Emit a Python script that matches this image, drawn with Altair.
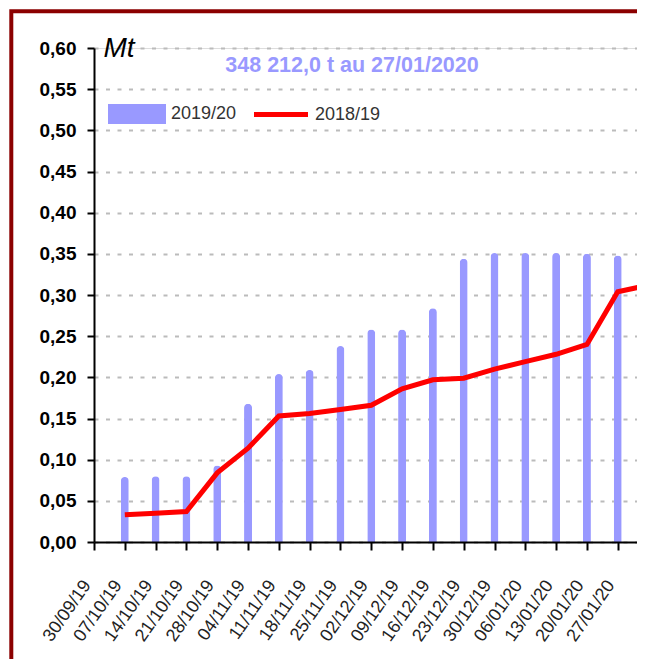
import altair as alt
import pandas as pd

# ---- data ----
week_labels = ["30/09/19", "07/10/19", "14/10/19", "21/10/19", "28/10/19", "04/11/19",
               "11/11/19", "18/11/19", "25/11/19", "02/12/19", "09/12/19", "16/12/19",
               "23/12/19", "30/12/19", "06/01/20", "13/01/20", "20/01/20", "27/01/20"]

bar_dates = week_labels[1:]
bar_values = [0.079, 0.080, 0.080, 0.093, 0.168, 0.204, 0.209, 0.238, 0.258,
              0.258, 0.284, 0.344, 0.351, 0.351, 0.351, 0.350, 0.348]

line_dates = week_labels[1:] + ["03/02/20"]
line_values = [0.033, 0.035, 0.037, 0.084, 0.114, 0.153, 0.156, 0.161, 0.166,
               0.186, 0.197, 0.199, 0.210, 0.219, 0.228, 0.240, 0.304, 0.312]

series_names = ["2019/20", "2018/19"]
series_colors = ["#9999FF", "#FF0000"]
y_ticks = [0.0, 0.05, 0.10, 0.15, 0.20, 0.25, 0.30, 0.35, 0.40, 0.45, 0.50, 0.55, 0.60]
title_text = "348 212,0 t au 27/01/2020"


def iso(s):
    d, m, y = s.split("/")
    return f"20{y}-{m}-{d}"


def dt(s, hours=0):
    d, m, y = s.split("/")
    return alt.DateTime(year=2000 + int(y), month=int(m), date=int(d), hours=hours, utc=True)


df = pd.DataFrame({
    "date": [iso(s) for s in bar_dates] + [iso(s) for s in line_dates],
    "value": bar_values + line_values,
    "series": [series_names[0]] * len(bar_dates) + [series_names[1]] * len(line_dates),
})

FONT = "Liberation Sans"
NARROW = "'Liberation Sans Narrow', 'Liberation Sans'"

legend = alt.Legend(
    title=None, orient="none", legendX=33, legendY=56, direction="horizontal",
    symbolSize=400, labelFontSize=18, labelFont=NARROW, labelColor="#333333",
    labelOffset=24, columnPadding=17, symbolStrokeWidth=0, symbolOpacity=1,
)

color = alt.Color("series:N", scale=alt.Scale(domain=series_names, range=series_colors), legend=legend)
shape = alt.Shape(
    "series:N",
    scale=alt.Scale(domain=series_names,
                    range=["M-2.9,-1H2.9V1H-2.9Z", "M-2.7,-0.25H2.7V0.25H-2.7Z"]),
    legend=legend,
)

x = alt.X(
    "date:T",
    scale=alt.Scale(type="utc", nice=False, padding=0,
                    domain=[dt("30/09/19"), dt("31/01/20", hours=9)]),
    axis=alt.Axis(
        values=[dt(s) for s in week_labels], format="%d/%m/%y", title=None,
        labelAngle=-55, labelAlign="right", labelBaseline="middle", labelPadding=32,
        labelOffset=-7,
        labelFont=NARROW, labelFontSize=18, labelColor="#222222",
        labelOverlap=False, labelBound=False, labelFlush=False,
        domainColor="black", domainWidth=2, tickColor="black", tickWidth=2, tickSize=8,
        grid=False, zindex=1,
    ),
)

y = alt.Y(
    "value:Q",
    scale=alt.Scale(domain=[0, 0.6], nice=False),
    axis=alt.Axis(
        values=y_ticks, labelExpr="replace(format(datum.value, '.2f'), '.', ',')",
        labelFont=FONT, labelFontSize=19, labelFontWeight="bold", labelColor="black",
        labelPadding=11,
        domainColor="black", domainWidth=2, tickColor="black", tickWidth=2, tickSize=7,
        grid=True, gridColor="#BBBBBB", gridWidth=2, gridDash=[4, 7.5],
        title="Mt", titleAngle=0, titleX=9, titleY=8, titleAlign="left",
        titleBaseline="alphabetic", titleFont=FONT, titleFontSize=28,
        titleFontStyle="italic", titleFontWeight="normal", titleColor="black",
    ),
)

base = alt.Chart(df)

border = alt.Chart(pd.DataFrame({"k": [0]})).mark_rect(
    fillOpacity=0, stroke="#8B0000", strokeWidth=4, clip=False
).encode(
    x=alt.value(-82.7), x2=alt.value(900), y=alt.value(-36.7), y2=alt.value(900)
)

bars = base.transform_filter(alt.datum.series == series_names[0]).mark_bar(
    size=8, cornerRadiusTopLeft=4, cornerRadiusTopRight=4
).encode(x=x, y=y, color=color)

line = base.transform_filter(alt.datum.series == series_names[1]).mark_line(
    strokeWidth=5, clip=True
).encode(x=x, y=y, color=color)

legend_pts = base.mark_point(filled=True, opacity=0).encode(x=x, y=y, color=color, shape=shape)

chart = alt.layer(border, bars, line, legend_pts).properties(
    width=543, height=494,
    autosize=alt.AutoSizeParams(type="none"),
    padding={"left": 86, "top": 40, "right": 0, "bottom": 117},
    title=alt.TitleParams(
        title_text, color="#9999FF", fontSize=21.5, fontWeight="bold", font=FONT,
        anchor="middle", frame="group", offset=0, baseline="alphabetic",
        dx=-13.5, dy=84,
    ),
).configure_view(stroke=None).configure(background="white")

chart.save("out.html", embed_options={"renderer": "svg", "actions": False})
